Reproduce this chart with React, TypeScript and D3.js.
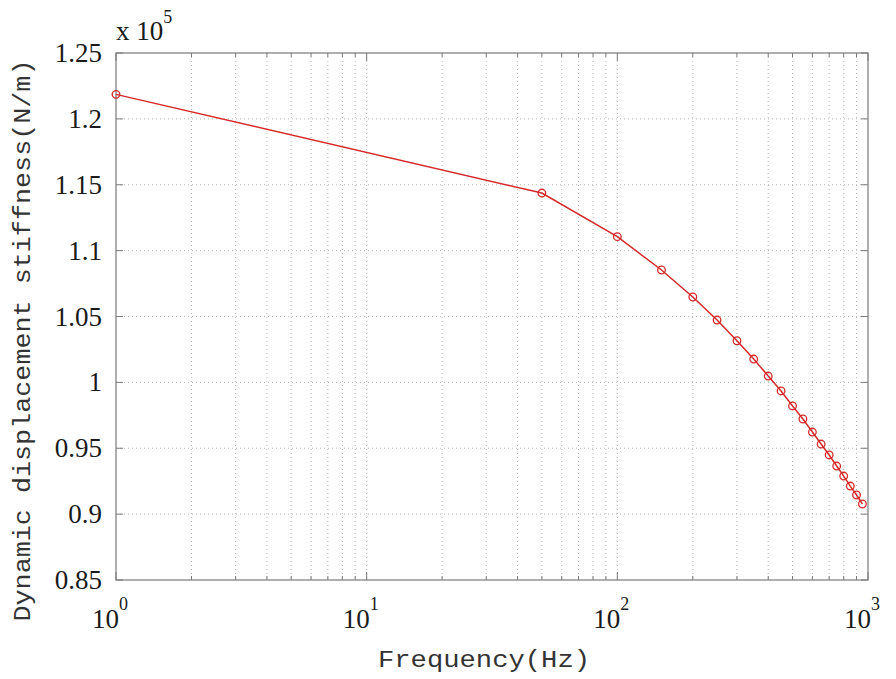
import React from "react";
import * as d3 from "d3";

const freqs = [1, 50, 100, 150, 200, 250, 300, 350, 400, 450, 500, 550, 600, 650, 700, 750, 800, 850, 900, 950];
const stiffness = [1.2186, 1.1437, 1.1106, 1.0853, 1.0648, 1.0473, 1.0316, 1.0177, 1.0048, 0.9935, 0.9821, 0.9722, 0.9623, 0.9532, 0.9449, 0.9365, 0.9289, 0.9213, 0.9145, 0.9077];
const yTicks = [0.85, 0.9, 0.95, 1, 1.05, 1.1, 1.15, 1.2, 1.25];
const yTickLabels = ["0.85", "0.9", "0.95", "1", "1.05", "1.1", "1.15", "1.2", "1.25"];
const xMajor = [1, 10, 100, 1000];
const xExponents = ["0", "1", "2", "3"];

export default function App() {
  const W = 896, H = 679;
  const L = 116, R = 868, T = 53, B = 580;
  const x = d3.scaleLog().domain([1, 1000]).range([L, R]);
  const y = d3.scaleLinear().domain([0.85, 1.25]).range([B, T]);
  const minor: number[] = [];
  for (let d = 1; d < 1000; d *= 10) for (let k = 2; k <= 9; k++) minor.push(d * k);
  const axisColor = "#7a7a7a";
  const gridColor = "#b8b8b8";
  const red = "#d42a2a";
  const line = d3.line<number>().x((_, i) => x(freqs[i])).y((v) => y(v));
  const serif = "Liberation Serif";
  const mono = "Liberation Mono";
  return (
    <svg width={W} height={H} style={{ position: "absolute", left: 0, top: 0, background: "#fff" }}>
      <rect x={0} y={0} width={W} height={H} fill="#fff" />
      {[...minor, ...xMajor.slice(1, 3)].map((v) => (
        <line key={"gx" + v} x1={x(v)} x2={x(v)} y1={T} y2={B} stroke={gridColor} strokeWidth={1} strokeDasharray="1,3" />
      ))}
      {yTicks.slice(1, -1).map((v) => (
        <line key={"gy" + v} x1={L} x2={R} y1={y(v)} y2={y(v)} stroke={gridColor} strokeWidth={1} strokeDasharray="1,3" />
      ))}
      {yTicks.map((v) => (
        <g key={"ty" + v}>
          <line x1={L} x2={L + 7} y1={y(v)} y2={y(v)} stroke={axisColor} />
          <line x1={R} x2={R - 7} y1={y(v)} y2={y(v)} stroke={axisColor} />
        </g>
      ))}
      {xMajor.map((v) => (
        <g key={"tx" + v}>
          <line x1={x(v)} x2={x(v)} y1={B} y2={B - 8} stroke={axisColor} />
          <line x1={x(v)} x2={x(v)} y1={T} y2={T + 8} stroke={axisColor} />
        </g>
      ))}
      {minor.map((v) => (
        <g key={"tm" + v}>
          <line x1={x(v)} x2={x(v)} y1={B} y2={B - 4} stroke={axisColor} />
          <line x1={x(v)} x2={x(v)} y1={T} y2={T + 4} stroke={axisColor} />
        </g>
      ))}
      <rect x={L} y={T} width={R - L} height={B - T} fill="none" stroke={axisColor} strokeWidth={1.2} />
      <path d={line(stiffness) || ""} fill="none" stroke={red} strokeWidth={1.5} />
      {stiffness.map((v, i) => (
        <circle key={"p" + i} cx={x(freqs[i])} cy={y(v)} r={3.8} fill="none" stroke={red} strokeWidth={1.3} />
      ))}
      {yTicks.map((v, i) => (
        <text key={"ly" + v} x={L - 14} y={y(v) + 9} textAnchor="end" fontFamily={serif} fontSize={27} fill="#1a1a1a">
          {yTickLabels[i]}
        </text>
      ))}
      {xMajor.map((v, i) => (
        <text key={"lx" + v} x={x(v) - 6} y={628} textAnchor="middle" fontFamily={serif} fontSize={27} fill="#1a1a1a">
          10
          <tspan dy={-18} fontSize={18}>{xExponents[i]}</tspan>
        </text>
      ))}
      <text x={116} y={40} fontFamily={serif} fontSize={27} fill="#1a1a1a">
        x 10
        <tspan dy={-17} fontSize={18}>5</tspan>
      </text>
      <text x={484} y={667} textAnchor="middle" fontFamily={mono} fontSize={24} fill="#333" textLength={212} lengthAdjust="spacingAndGlyphs">
        Frequency(Hz)
      </text>
      <text transform={`translate(30, ${(T + B) / 2 + 24}) rotate(-90)`} textAnchor="middle" fontFamily={mono} fontSize={24} fill="#333" textLength={562} lengthAdjust="spacingAndGlyphs">
        Dynamic displacement stiffness(N/m)
      </text>
    </svg>
  );
}
